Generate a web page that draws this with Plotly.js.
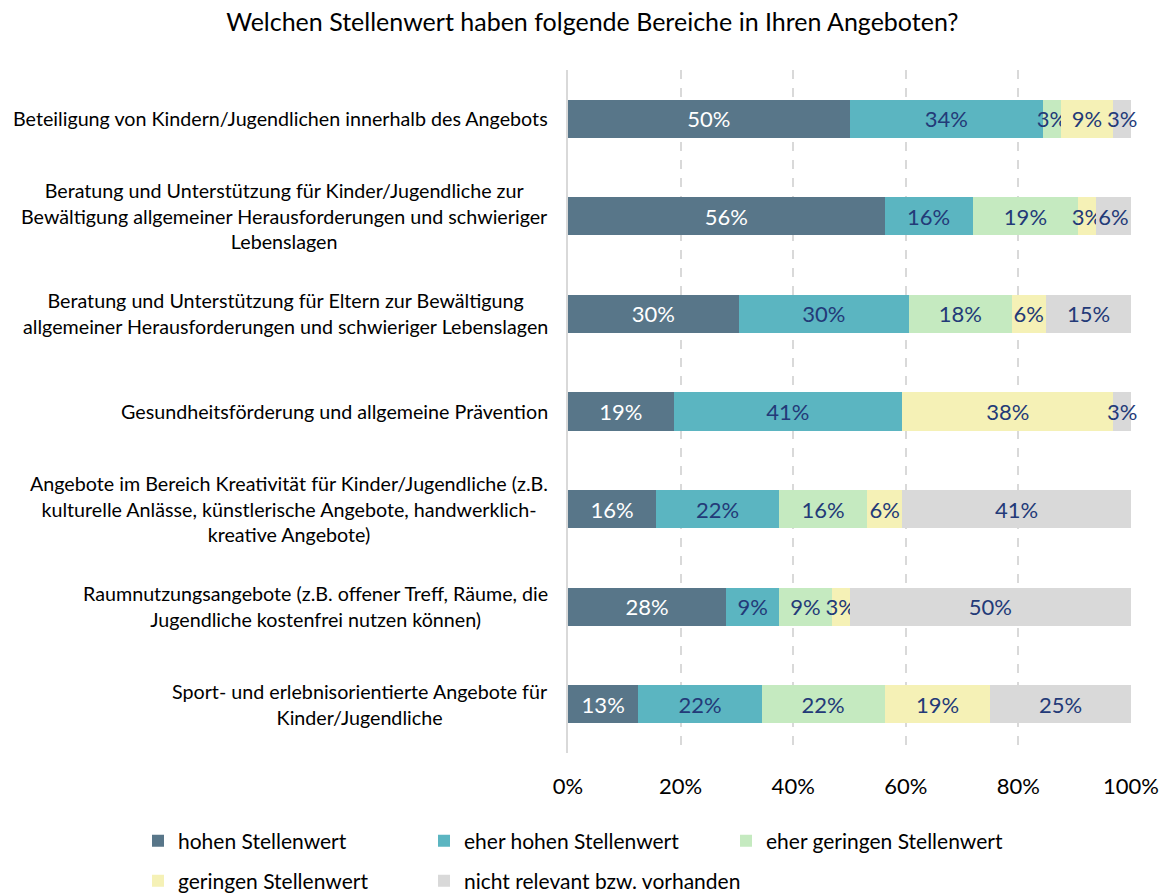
<!DOCTYPE html>
<html>
<head>
<meta charset="utf-8">
<script src="https://cdn.plot.ly/plotly-3.0.1.min.js"></script>
<style>html,body{margin:0;padding:0;background:#fff;}#chart{width:1166px;height:894px;}</style>
</head>
<body>
<div id="chart"></div>
<script>
var categories = [
  "Beteiligung von Kindern/Jugendlichen innerhalb des Angebots",
  "Beratung und Unterstützung für Kinder/Jugendliche zur<br>Bewältigung allgemeiner Herausforderungen und schwieriger<br>Lebenslagen",
  "Beratung und Unterstützung für Eltern zur Bewältigung<br>allgemeiner Herausforderungen und schwieriger Lebenslagen",
  "Gesundheitsförderung und allgemeine Prävention",
  "Angebote im Bereich Kreativität für Kinder/Jugendliche (z.B.<br>kulturelle Anlässe, künstlerische Angebote, handwerklich-<br>kreative Angebote)",
  "Raumnutzungsangebote (z.B. offener Treff, Räume, die<br>Jugendliche kostenfrei nutzen können)",
  "Sport- und erlebnisorientierte Angebote für<br>Kinder/Jugendliche"
];
var seriesNames = ["hohen Stellenwert", "eher hohen Stellenwert", "eher geringen Stellenwert", "geringen Stellenwert", "nicht relevant bzw. vorhanden"];
var hohen        = [50.0, 56.25, 30.3, 18.75, 15.625, 28.125, 12.5];
var eherHohen    = [34.375, 15.625, 30.3, 40.625, 21.875, 9.375, 21.875];
var eherGeringen = [3.125, 18.75, 18.2, 0, 15.625, 9.375, 21.875];
var geringen     = [9.375, 3.125, 6.1, 37.5, 6.25, 3.125, 18.75];
var nichtRelevant= [3.125, 6.25, 15.09, 3.125, 40.625, 50.0, 25.0];
var tickVals = [0, 20, 40, 60, 80, 100];
var tickText = ["0%", "20%", "40%", "60%", "80%", "100%"];

var colors = ["#587689", "#5BB5C1", "#C5EAC0", "#F5F1B6", "#D9D9D9"];
var textColors = ["#FFFFFF", "#233A78", "#233A78", "#233A78", "#233A78"];
var seriesValues = [hohen, eherHohen, eherGeringen, geringen, nichtRelevant];
var FONT = "Lato, 'Open Sans', sans-serif";
var legendIds = ["legend", "legend2", "legend3", "legend4", "legend5"];

var traces = seriesValues.map(function(vals, i) {
  return {
    type: "bar",
    orientation: "h",
    name: seriesNames[i],
    y: categories,
    x: vals,
    marker: {color: colors[i], line: {width: 0}},
    text: vals.map(function(v){ return v > 0 ? Math.round(v) + "%" : ""; }),
    textposition: "inside",
    insidetextanchor: "middle",
    constraintext: "none",
    textangle: 0,
    cliponaxis: false,
    textfont: {family: FONT, size: 22, color: textColors[i]},
    hoverinfo: "skip",
    legend: legendIds[i]
  };
});

var annotations = categories.map(function(c) {
  return {
    xref: "paper", yref: "y", x: 0, y: c,
    xanchor: "right", yanchor: "middle", xshift: -18,
    align: "center", showarrow: false,
    text: c,
    font: {family: FONT, size: 19.7, color: "#000"}
  };
});

function legendAt(px, py) {
  return {orientation: "h", xref: "container", yref: "container",
          x: px / 1166, xanchor: "left", y: 1 - py / 894, yanchor: "middle",
          font: {family: FONT, size: 21, color: "#000"}, bgcolor: "rgba(0,0,0,0)", borderwidth: 0};
}

var layout = {
  width: 1166, height: 894,
  margin: {l: 568, r: 35, t: 70, b: 141, autoexpand: false},
  paper_bgcolor: "#fff", plot_bgcolor: "#fff",
  barmode: "stack",
  bargap: 0.61,
  title: {text: "Welchen Stellenwert haben folgende Bereiche in Ihren Angeboten?",
          x: 0.508, xanchor: "center", y: 0.975, yanchor: "middle",
          font: {family: FONT, size: 25, color: "#000"}},
  xaxis: {range: [0, 100], tickvals: tickVals, ticktext: tickText,
          showgrid: true, gridcolor: "#D9D9D9", griddash: "dash", gridwidth: 2,
          zeroline: false, showline: false, ticks: "",
          tickfont: {family: FONT, size: 22, color: "#000"}, ticklabelstandoff: 18},
  yaxis: {type: "category", autorange: "reversed", showticklabels: false,
          showgrid: false, zeroline: false, showline: true, linecolor: "#D9D9D9", linewidth: 2, ticks: ""},
  showlegend: true,
  legend: legendAt(138, 841),
  legend2: legendAt(424, 841),
  legend3: legendAt(726, 841),
  legend4: legendAt(138, 881),
  legend5: legendAt(424, 881),
  annotations: annotations
};

Plotly.newPlot("chart", traces, layout, {displayModeBar: false, staticPlot: true});
</script>
</body>
</html>
